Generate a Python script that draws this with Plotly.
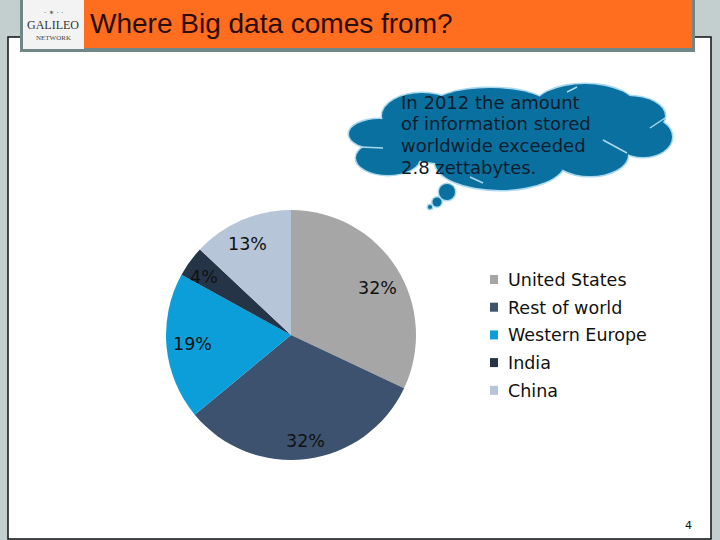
import plotly.graph_objects as go

W = 720
H = 540

# chart values
countries = ["United States", "Rest of world", "Western Europe", "India", "China"]
shares = [32, 32, 19, 4, 13]
colors = ["#a6a6a6", "#3d526f", "#0b9ed9", "#263448", "#b7c5d9"]
# where the percent labels sit, same order as countries
label_x = [377, 305, 192, 204, 247]
label_y = [288, 441, 344, 277, 244]

cloud_lines = ["In 2012 the amount", "of information stored", "worldwide exceeded", "2.8 zettabytes."]

# cloud lobes: cx, cy, rx, ry
lobes = [(379, 134, 30, 15), (388, 158, 32, 17), (422, 116, 40, 23), (490, 108, 60, 20),
         (585, 109, 52, 25), (628, 116, 37, 20), (643, 137, 29, 20), (500, 162, 65, 28),
         (590, 155, 38, 21), (470, 140, 90, 25), (570, 135, 60, 25)]
bubbles = [(447, 192, 8, 8), (437, 202, 4.5, 4.5), (430, 207, 2, 2)]
# pale creases inside the cloud
creases = [(603, 140, 627, 153), (650, 128, 665, 118), (360, 147, 383, 148),
           (470, 177, 483, 183), (567, 92, 577, 87)]


def px(x):
    return x / W


def py(y):
    return 1 - y / H


def rect(x0, y0, x1, y1, fill, line=None, width=0):
    return dict(type="rect", xref="paper", yref="paper", layer="below",
                x0=px(x0), x1=px(x1), y0=py(y0), y1=py(y1), fillcolor=fill,
                line=dict(color=line or fill, width=width))


def ellipse(cx, cy, rx, ry, fill, line, width):
    return dict(type="circle", xref="paper", yref="paper", layer="below",
                x0=px(cx - rx), x1=px(cx + rx), y0=py(cy + ry), y1=py(cy - ry),
                fillcolor=fill, line=dict(color=line, width=width))


def text(x, y, s, size, font="DejaVu Sans", color="#111111", anchor="left"):
    return dict(xref="paper", yref="paper", x=px(x), y=py(y), text=s, showarrow=False,
                xanchor=anchor, yanchor="middle", align=anchor,
                font=dict(family=font, size=size, color=color))


fig = go.Figure(go.Pie(labels=countries, values=shares, sort=False, direction="clockwise",
                       rotation=0, textinfo="none", hoverinfo="label+percent",
                       marker=dict(colors=colors, line=dict(width=0)),
                       domain=dict(x=[px(166), px(416)], y=[py(460), py(210)]),
                       showlegend=False))

shapes = [
    rect(0, 0, W, H, "#c3cfcf"),
    rect(8, 37, 711, 539, "#ffffff", "#111111", 1.5),
    rect(20, 0, 695, 52, "#6f8787"),
    rect(23, 0, 84, 49, "#f3f3f3"),
    rect(84, 0, 692, 48, "#ff6d1f"),
]
for lobe in lobes + bubbles:
    shapes.append(ellipse(*lobe, "#a9d9ee", "#a9d9ee", 3))
for lobe in lobes + bubbles:
    shapes.append(ellipse(*lobe, "#0a70a0", "#0a70a0", 0))
for x0, y0, x1, y1 in creases:
    shapes.append(dict(type="line", xref="paper", yref="paper", layer="below",
                       x0=px(x0), x1=px(x1), y0=py(y0), y1=py(y1),
                       line=dict(color="#a9d9ee", width=1.5)))

annotations = [
    text(88, 23, "Where Big data comes from?", 28, "Liberation Sans", "#2a0c0c"),
    text(53, 13, "· ✶ · ·", 7, "DejaVu Sans", "#555555", "center"),
    text(53, 25, "GALILEO", 12, "Liberation Serif", "#333333", "center"),
    text(53, 38, "NETWORK", 7, "Liberation Serif", "#444444", "center"),
    text(688, 525, "4", 11, "DejaVu Sans", "#111111", "center"),
]
for i, line in enumerate(cloud_lines):
    annotations.append(text(399, 102 + i * 21.8, line, 18, color="#0c1c2c"))
for i, share in enumerate(shares):
    annotations.append(text(label_x[i], label_y[i], f"{share}%", 17.5, anchor="center"))
for i, name in enumerate(countries):
    y = 280 + i * 27.7
    shapes.append(rect(490, y - 5, 498, y + 4, colors[i]))
    annotations.append(text(506, y, name, 17.5))

fig.update_layout(width=W, height=H, margin=dict(l=0, r=0, t=0, b=0),
                  paper_bgcolor="#ffffff", shapes=shapes, annotations=annotations)

# browser default body margin would push the slide 8px in
fig.write_html("out.html", config=dict(displayModeBar=False),
               post_script="document.body.style.margin='0';")
